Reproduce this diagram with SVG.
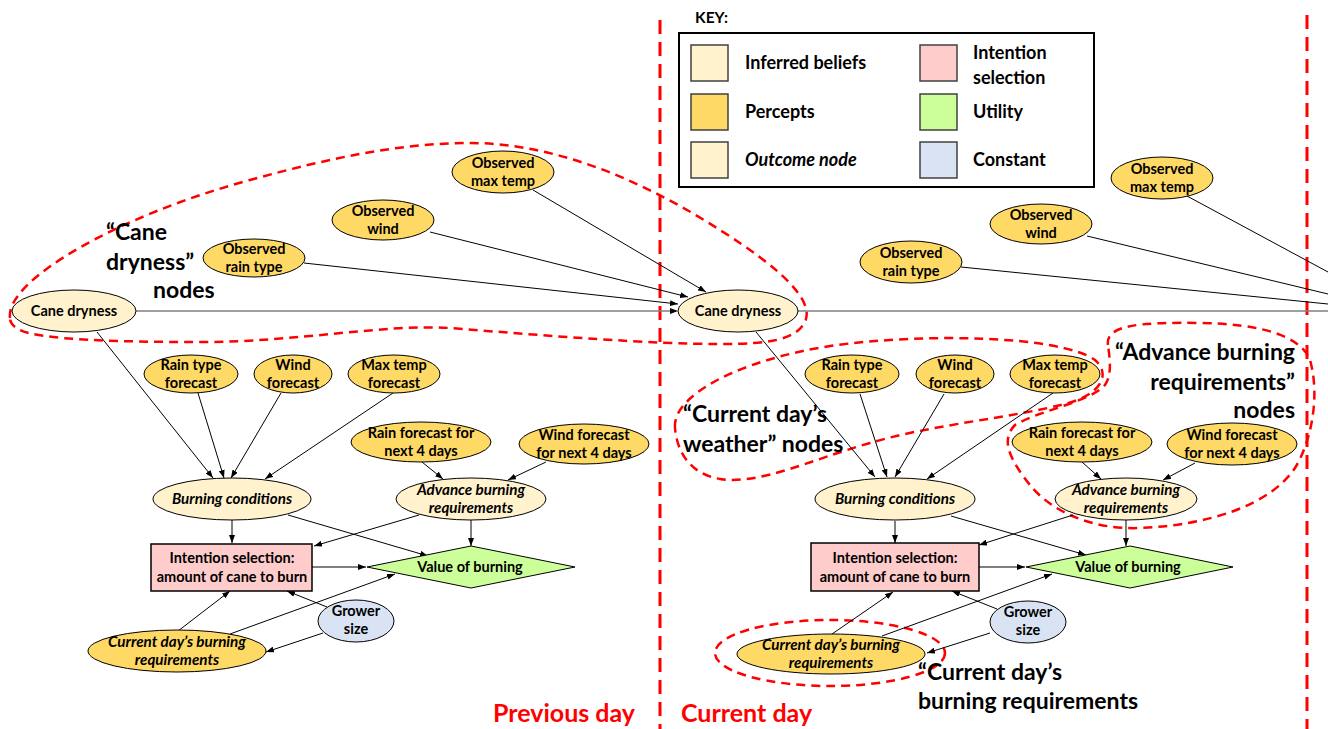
<svg xmlns="http://www.w3.org/2000/svg" width="1328" height="729" viewBox="0 0 1328 729">
<style>
text{font-family:Lato,"Liberation Sans",sans-serif;font-weight:bold;fill:#000}
.n{font-size:14.5px;text-anchor:middle}
.i{font-style:italic;font-size:15.2px}
.k{font-size:18px}
.ki{font-style:italic}
.lbl{font-size:23px}
.red{font-size:25px;fill:#FF0000}
.bel{fill:#FFF2CC;stroke:#000;stroke-width:1}
.per{fill:#FFD966;stroke:#000;stroke-width:1}
.int{fill:#FFCCCC;stroke:#000;stroke-width:1.5}
.uti{fill:#CCFF99;stroke:#000;stroke-width:1}
.con{fill:#DAE3F3;stroke:#000;stroke-width:1}
.sw{stroke:#404040;stroke-width:1.5}
.e{stroke:#000;stroke-width:1;fill:none;marker-end:url(#ah)}
.g{stroke:#7F7F7F;stroke-width:1.5;fill:none}
.gl{stroke:#000;stroke-width:1;fill:none}
.dash{fill:none;stroke:#FF0000;stroke-width:2.5;stroke-dasharray:9,6}
.vd{fill:none;stroke:#FF0000;stroke-width:3;stroke-dasharray:14,8}
</style>
<defs>
<marker id="ah" markerWidth="8" markerHeight="6" refX="8" refY="3" orient="auto" markerUnits="userSpaceOnUse"><path d="M0,0 L8,3 L0,6 Z" fill="#000"/></marker>
</defs>
<rect x="0" y="0" width="1328" height="729" fill="#fff"/>

<!-- key -->
<g id="key">
<text x="695" y="23" style="font-size:15.5px">KEY:</text>
<rect x="679" y="33" width="415" height="154" fill="#fff" stroke="#000" stroke-width="2"/>
<rect x="691" y="45" width="37" height="36" class="sw" fill="#FFF2CC"/>
<rect x="691" y="94" width="37" height="36" class="sw" fill="#FFD966"/>
<rect x="691" y="142" width="37" height="36" class="sw" fill="#FFF2CC"/>
<rect x="920" y="45" width="37" height="36" class="sw" fill="#FFCCCC"/>
<rect x="920" y="94" width="37" height="36" class="sw" fill="#CCFF99"/>
<rect x="920" y="142" width="37" height="36" class="sw" fill="#DAE3F3"/>
<text x="745" y="69" class="k">Inferred beliefs</text>
<text x="745" y="118" class="k">Percepts</text>
<text x="745" y="166" class="k ki">Outcome node</text>
<text x="973" y="59" class="k">Intention</text>
<text x="973" y="84" class="k">selection</text>
<text x="973" y="118" class="k">Utility</text>
<text x="973" y="166" class="k">Constant</text>
</g>

<!-- dashed groupings -->
<g id="groupings">
<line x1="660" y1="20" x2="660" y2="729" class="vd"/>
<line x1="1307" y1="15" x2="1307" y2="729" class="vd"/>
<path class="dash" d="M 10,318 C 5,280 120,215 250,180 C 330,158 400,143 470,143 C 560,143 650,185 720,230 C 780,268 815,300 805,322 C 795,340 770,344 720,344 C 650,344 550,336 450,328 C 380,324 300,342 200,342 C 120,342 40,340 20,330 C 12,326 10,322 10,318 Z"/>
<path class="dash" d="M 675,428 C 672,395 740,360 830,346 C 920,333 1060,335 1095,360 C 1112,375 1100,395 1065,404 C 1010,418 930,425 870,443 C 810,460 760,485 720,479 C 690,474 677,452 675,428 Z"/>
<path class="dash" d="M 1108,345 C 1105,325 1140,322 1200,323 C 1260,324 1300,335 1310,360 C 1320,395 1312,440 1295,468 C 1270,505 1210,525 1140,528 C 1090,530 1050,510 1030,485 C 1010,460 1000,440 1015,425 C 1040,410 1090,402 1105,385 C 1112,375 1110,360 1108,345 Z"/>
<ellipse class="dash" cx="830" cy="653" rx="115" ry="33"/>
</g>

<!-- connectors -->
<g id="connectors">
<line class="g" x1="136" y1="311" x2="670" y2="311"/>
<path d="M670,308 L678,311 L670,314 Z" fill="#000"/>
<line class="e" x1="304" y1="263" x2="678" y2="304"/>
<line class="e" x1="430" y1="232" x2="688" y2="297"/>
<line class="e" x1="533" y1="190" x2="706" y2="292"/>
<line class="e" x1="97" y1="332" x2="213" y2="478"/>
<line class="e" x1="198" y1="393" x2="224" y2="478"/>
<line class="e" x1="281" y1="393" x2="231" y2="478"/>
<line class="e" x1="393" y1="393" x2="265" y2="479"/>
<line class="e" x1="422" y1="462" x2="443" y2="479"/>
<line class="e" x1="546" y1="462" x2="508" y2="480"/>
<line class="e" x1="232" y1="520" x2="232" y2="543"/>
<line class="e" x1="288" y1="515" x2="428" y2="556"/>
<line class="e" x1="419" y1="515" x2="314" y2="546"/>
<line class="e" x1="471" y1="520" x2="471" y2="546"/>
<line class="e" x1="312" y1="567" x2="366" y2="567"/>
<line class="e" x1="178" y1="631" x2="230" y2="591"/>
<line class="e" x1="230" y1="634" x2="395" y2="574"/>
<line class="e" x1="327" y1="607" x2="287" y2="591"/>
<line class="e" x1="323" y1="633" x2="266" y2="652"/>

<line class="g" x1="798" y1="311" x2="1328" y2="311"/>
<line class="gl" x1="961" y1="267" x2="1328" y2="304"/>
<line class="gl" x1="1087" y1="236" x2="1328" y2="294"/>
<line class="gl" x1="1187" y1="196" x2="1328" y2="272"/>
<line class="e" x1="756" y1="332" x2="875" y2="477"/>
<line class="e" x1="860" y1="394" x2="887" y2="477"/>
<line class="e" x1="944" y1="394" x2="895" y2="477"/>
<line class="e" x1="1053" y1="393" x2="927" y2="479"/>
<line class="e" x1="1082" y1="462" x2="1101" y2="479"/>
<line class="e" x1="1195" y1="463" x2="1163" y2="480"/>
<line class="e" x1="895" y1="521" x2="895" y2="543"/>
<line class="e" x1="951" y1="516" x2="1086" y2="555"/>
<line class="e" x1="1073" y1="515" x2="979" y2="545"/>
<line class="e" x1="1126" y1="520" x2="1126" y2="546"/>
<line class="e" x1="979" y1="567" x2="1025" y2="567"/>
<line class="e" x1="832" y1="634" x2="893" y2="592"/>
<line class="e" x1="882" y1="636" x2="1052" y2="574"/>
<line class="e" x1="997" y1="609" x2="952" y2="591"/>
<line class="e" x1="990" y1="633" x2="927" y2="653"/>
</g>

<!-- previous day nodes -->
<g id="cane-dryness-prev"><ellipse class="bel" cx="74" cy="311" rx="62" ry="21"/><text class="n" x="74" y="316">Cane dryness</text></g>
<g id="obs-rain-prev"><ellipse class="per" cx="254" cy="258" rx="51" ry="19"/><text class="n" x="254" y="254">Observed</text><text class="n" x="254" y="272">rain type</text></g>
<g id="obs-wind-prev"><ellipse class="per" cx="383" cy="220" rx="51" ry="20"/><text class="n" x="383" y="216">Observed</text><text class="n" x="383" y="234">wind</text></g>
<g id="obs-max-prev"><ellipse class="per" cx="503" cy="172" rx="51" ry="21"/><text class="n" x="503" y="168">Observed</text><text class="n" x="503" y="186">max temp</text></g>
<g id="rain-type-prev"><ellipse class="per" cx="191" cy="374" rx="47" ry="19"/><text class="n" x="191" y="370">Rain type</text><text class="n" x="191" y="388">forecast</text></g>
<g id="wind-prev"><ellipse class="per" cx="293" cy="374" rx="39" ry="19"/><text class="n" x="293" y="370">Wind</text><text class="n" x="293" y="388">forecast</text></g>
<g id="max-temp-prev"><ellipse class="per" cx="394" cy="374" rx="46" ry="19"/><text class="n" x="394" y="370">Max temp</text><text class="n" x="394" y="388">forecast</text></g>
<g id="rain4-prev"><ellipse class="per" cx="421" cy="442" rx="70" ry="20"/><text class="n" x="421" y="438">Rain forecast for</text><text class="n" x="421" y="456">next 4 days</text></g>
<g id="wind4-prev"><ellipse class="per" cx="584" cy="444" rx="65" ry="20"/><text class="n" x="584" y="440">Wind forecast</text><text class="n" x="584" y="458">for next 4 days</text></g>
<g id="burning-cond-prev"><ellipse class="bel" cx="232" cy="499" rx="79" ry="21"/><text class="n i" x="232" y="504">Burning conditions</text></g>
<g id="advance-prev"><ellipse class="bel" cx="471" cy="499" rx="75" ry="21"/><text class="n i" x="471" y="495">Advance burning</text><text class="n i" x="471" y="513">requirements</text></g>
<g id="intention-prev"><rect class="int" x="151" y="544" width="161" height="47"/><text class="n" x="232" y="563">Intention selection:</text><text class="n" x="232" y="582">amount of cane to burn</text></g>
<g id="value-prev"><polygon class="uti" points="367,567 471,546 575,567 471,588"/><text class="n" x="470" y="572">Value of burning</text></g>
<g id="grower-prev"><ellipse class="con" cx="356" cy="621" rx="38" ry="21"/><text class="n" x="356" y="616">Grower</text><text class="n" x="356" y="634">size</text></g>
<g id="current-req-prev"><ellipse class="per" cx="177" cy="651" rx="89" ry="21"/><text class="n i" x="177" y="647">Current day’s burning</text><text class="n i" x="177" y="665">requirements</text></g>

<!-- current day nodes -->
<g id="cane-dryness-cur"><ellipse class="bel" cx="738" cy="311" rx="60" ry="21"/><text class="n" x="738" y="316">Cane dryness</text></g>
<g id="obs-rain-cur"><ellipse class="per" cx="911" cy="262" rx="51" ry="21"/><text class="n" x="911" y="258">Observed</text><text class="n" x="911" y="276">rain type</text></g>
<g id="obs-wind-cur"><ellipse class="per" cx="1041" cy="224" rx="51" ry="20"/><text class="n" x="1041" y="220">Observed</text><text class="n" x="1041" y="238">wind</text></g>
<g id="obs-max-cur"><ellipse class="per" cx="1162" cy="178" rx="51" ry="21"/><text class="n" x="1162" y="174">Observed</text><text class="n" x="1162" y="192">max temp</text></g>
<g id="rain-type-cur"><ellipse class="per" cx="852" cy="374" rx="47" ry="19"/><text class="n" x="852" y="370">Rain type</text><text class="n" x="852" y="388">forecast</text></g>
<g id="wind-cur"><ellipse class="per" cx="955" cy="374" rx="39" ry="19"/><text class="n" x="955" y="370">Wind</text><text class="n" x="955" y="388">forecast</text></g>
<g id="max-temp-cur"><ellipse class="per" cx="1055" cy="374" rx="45" ry="19"/><text class="n" x="1055" y="370">Max temp</text><text class="n" x="1055" y="388">forecast</text></g>
<g id="rain4-cur"><ellipse class="per" cx="1082" cy="442" rx="70" ry="20"/><text class="n" x="1082" y="438">Rain forecast for</text><text class="n" x="1082" y="456">next 4 days</text></g>
<g id="wind4-cur"><ellipse class="per" cx="1232" cy="444" rx="65" ry="21"/><text class="n" x="1232" y="440">Wind forecast</text><text class="n" x="1232" y="458">for next 4 days</text></g>
<g id="burning-cond-cur"><ellipse class="bel" cx="895" cy="499" rx="80" ry="21"/><text class="n i" x="895" y="504">Burning conditions</text></g>
<g id="advance-cur"><ellipse class="bel" cx="1126" cy="499" rx="71" ry="21"/><text class="n i" x="1126" y="495">Advance burning</text><text class="n i" x="1126" y="513">requirements</text></g>
<g id="intention-cur"><rect class="int" x="811" y="543" width="168" height="48"/><text class="n" x="895" y="563">Intention selection:</text><text class="n" x="895" y="582">amount of cane to burn</text></g>
<g id="value-cur"><polygon class="uti" points="1026,567 1130,546 1233,567 1130,588"/><text class="n" x="1128" y="572">Value of burning</text></g>
<g id="grower-cur"><ellipse class="con" cx="1028" cy="622" rx="38" ry="21"/><text class="n" x="1028" y="617">Grower</text><text class="n" x="1028" y="635">size</text></g>
<g id="current-req-cur"><ellipse class="per" cx="831" cy="654" rx="94" ry="20"/><text class="n i" x="831" y="650">Current day’s burning</text><text class="n i" x="831" y="668">requirements</text></g>

<!-- annotations -->
<g id="annotations">
<text class="lbl" x="106" y="240">“Cane</text>
<text class="lbl" x="106" y="270">dryness”</text>
<text class="lbl" x="153" y="298">nodes</text>
<text class="lbl" x="683" y="422">“Current day’s</text>
<text class="lbl" x="683" y="452">weather” nodes</text>
<text class="lbl" x="1295" y="360" text-anchor="end">“Advance burning</text>
<text class="lbl" x="1295" y="390" text-anchor="end">requirements”</text>
<text class="lbl" x="1295" y="418" text-anchor="end">nodes</text>
<text class="lbl" x="918" y="680">“Current day’s</text>
<text class="lbl" x="918" y="709">burning requirements</text>
<text class="red" x="493" y="722">Previous day</text>
<text class="red" x="681" y="722">Current day</text>
</g>
</svg>
